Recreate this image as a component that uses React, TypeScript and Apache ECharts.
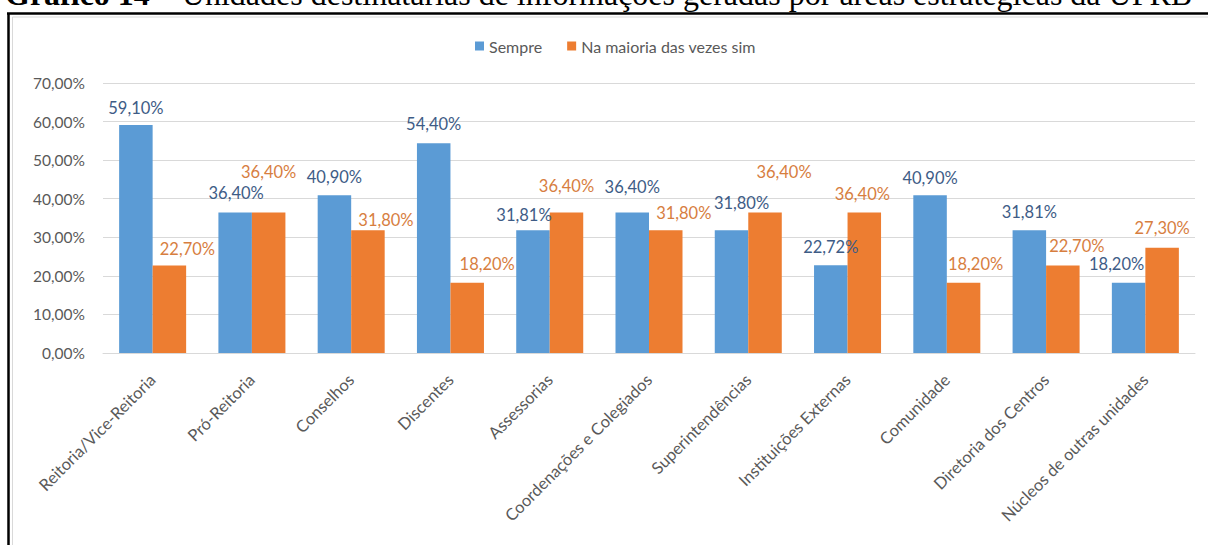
import React, { useEffect, useRef } from "react";
import * as echarts from "echarts";

const categories = [
  "Reitoria/Vice-Reitoria",
  "Pró-Reitoria",
  "Conselhos",
  "Discentes",
  "Assessorias",
  "Coordenações e Colegiados",
  "Superintendências",
  "Instituições Externas",
  "Comunidade",
  "Diretoria dos Centros",
  "Núcleos de outras unidades",
];
const seriesNames = ["Sempre", "Na maioria das vezes sim"];
const sempre = [59.1, 36.4, 40.9, 54.4, 31.81, 36.4, 31.8, 22.72, 40.9, 31.81, 18.2];
const maioria = [22.7, 36.4, 31.8, 18.2, 36.4, 31.8, 36.4, 36.4, 18.2, 22.7, 27.3];

// small label nudges (dx, dy) copying the hand-placed labels of the original
const sempreNudge = [[0, 1], [1, -1], [0, 0], [0, -1], [-9, 3], [0, -7], [10, -9], [0, 0], [0, 1], [0, 0], [-12, 0]];
const maioriaNudge = [[18, 2], [0, -22], [18, 8], [20, 0], [0, -8], [18, 1], [19, -22], [-2, 0], [12, 0], [14, -1], [0, -1]];

const titleText = "Unidades destinatárias de informações geradas por áreas estratégicas da UFRB";

const FONT = "Lato, 'Open Sans', sans-serif";
const fmt = (v: number) => v.toFixed(2).replace(".", ",") + "%";

export default function App() {
  const ref = useRef<HTMLDivElement>(null);
  useEffect(() => {
    if (!ref.current) return;
    const chart = echarts.init(ref.current, null, { renderer: "svg" });
    const mk = (vals: number[], nudge: number[][]) =>
      vals.map((v, i) => ({ value: v, label: { offset: nudge[i] } }));
    chart.setOption({
      animation: false,
      backgroundColor: "#ffffff",
      textStyle: { fontFamily: FONT },
      legend: {
        left: 475,
        top: 38,
        padding: 0,
        itemWidth: 9,
        itemHeight: 9,
        itemGap: 25,
        icon: "rect",
        textStyle: { fontSize: 16, color: "#595959", fontFamily: FONT },
        data: seriesNames,
      },
      grid: { left: 103, right: 13, top: 83, bottom: 192 },
      xAxis: {
        type: "category",
        data: categories,
        axisLine: { lineStyle: { color: "#D9D9D9" } },
        axisTick: { show: false },
        axisLabel: {
          rotate: 45,
          interval: 0,
          margin: 24,
          padding: [20, 0, 0, 0],
          fontSize: 16.5,
          color: "#595959",
          fontFamily: FONT,
        },
      },
      yAxis: {
        type: "value",
        min: 0,
        max: 70,
        interval: 10,
        axisLine: { show: false },
        axisTick: { show: false },
        splitLine: { lineStyle: { color: "#D9D9D9" } },
        axisLabel: {
          formatter: (v: number) => fmt(v),
          fontSize: 15.5,
          color: "#595959",
          margin: 18,
          fontFamily: FONT,
        },
      },
      series: [
        {
          name: seriesNames[0],
          type: "bar",
          data: mk(sempre, sempreNudge),
          itemStyle: { color: "#5B9BD5" },
          barGap: "0%",
          barCategoryGap: "32.5%",
          label: {
            show: true,
            position: "top",
            distance: 10,
            fontSize: 16.5,
            color: "#3E5C86",
            fontFamily: FONT,
            formatter: (p: any) => fmt(p.value),
          },
        },
        {
          name: seriesNames[1],
          type: "bar",
          data: mk(maioria, maioriaNudge),
          itemStyle: { color: "#ED7D31" },
          barGap: "0%",
          barCategoryGap: "32.5%",
          label: {
            show: true,
            position: "top",
            distance: 10,
            fontSize: 16.5,
            color: "#D77E3F",
            fontFamily: FONT,
            formatter: (p: any) => fmt(p.value),
          },
        },
      ],
      graphic: [
        {
          type: "text",
          x: 5,
          y: -6,
          z: 1,
          style: {
            text: "{b|Gráfico 14 –} " + titleText,
            fill: "#000",
            font: "32px 'Liberation Serif', serif",
            verticalAlign: "middle",
            rich: {
              b: { fontWeight: "bold", fontSize: 32, fontFamily: "'Liberation Serif', serif" },
            },
          },
        },
        {
          type: "line",
          z: 3,
          shape: { x1: 12.5, y1: 17, x2: 1208, y2: 17 },
          style: { stroke: "#D9D9D9", lineWidth: 1 },
        },
        {
          type: "line",
          z: 3,
          shape: { x1: 12.5, y1: 17, x2: 12.5, y2: 545 },
          style: { stroke: "#D9D9D9", lineWidth: 1 },
        },
        {
          type: "line",
          z: 4,
          shape: { x1: 7, y1: 13.5, x2: 1208, y2: 13.5 },
          style: { stroke: "#000", lineWidth: 2.5 },
        },
        {
          type: "line",
          z: 4,
          shape: { x1: 8.5, y1: 13, x2: 8.5, y2: 545 },
          style: { stroke: "#000", lineWidth: 2.5 },
        },
      ],
    });
    return () => chart.dispose();
  }, []);
  return (
    <div
      ref={ref}
      style={{ position: "fixed", left: 0, top: 0, width: 1208, height: 545 }}
    />
  );
}
